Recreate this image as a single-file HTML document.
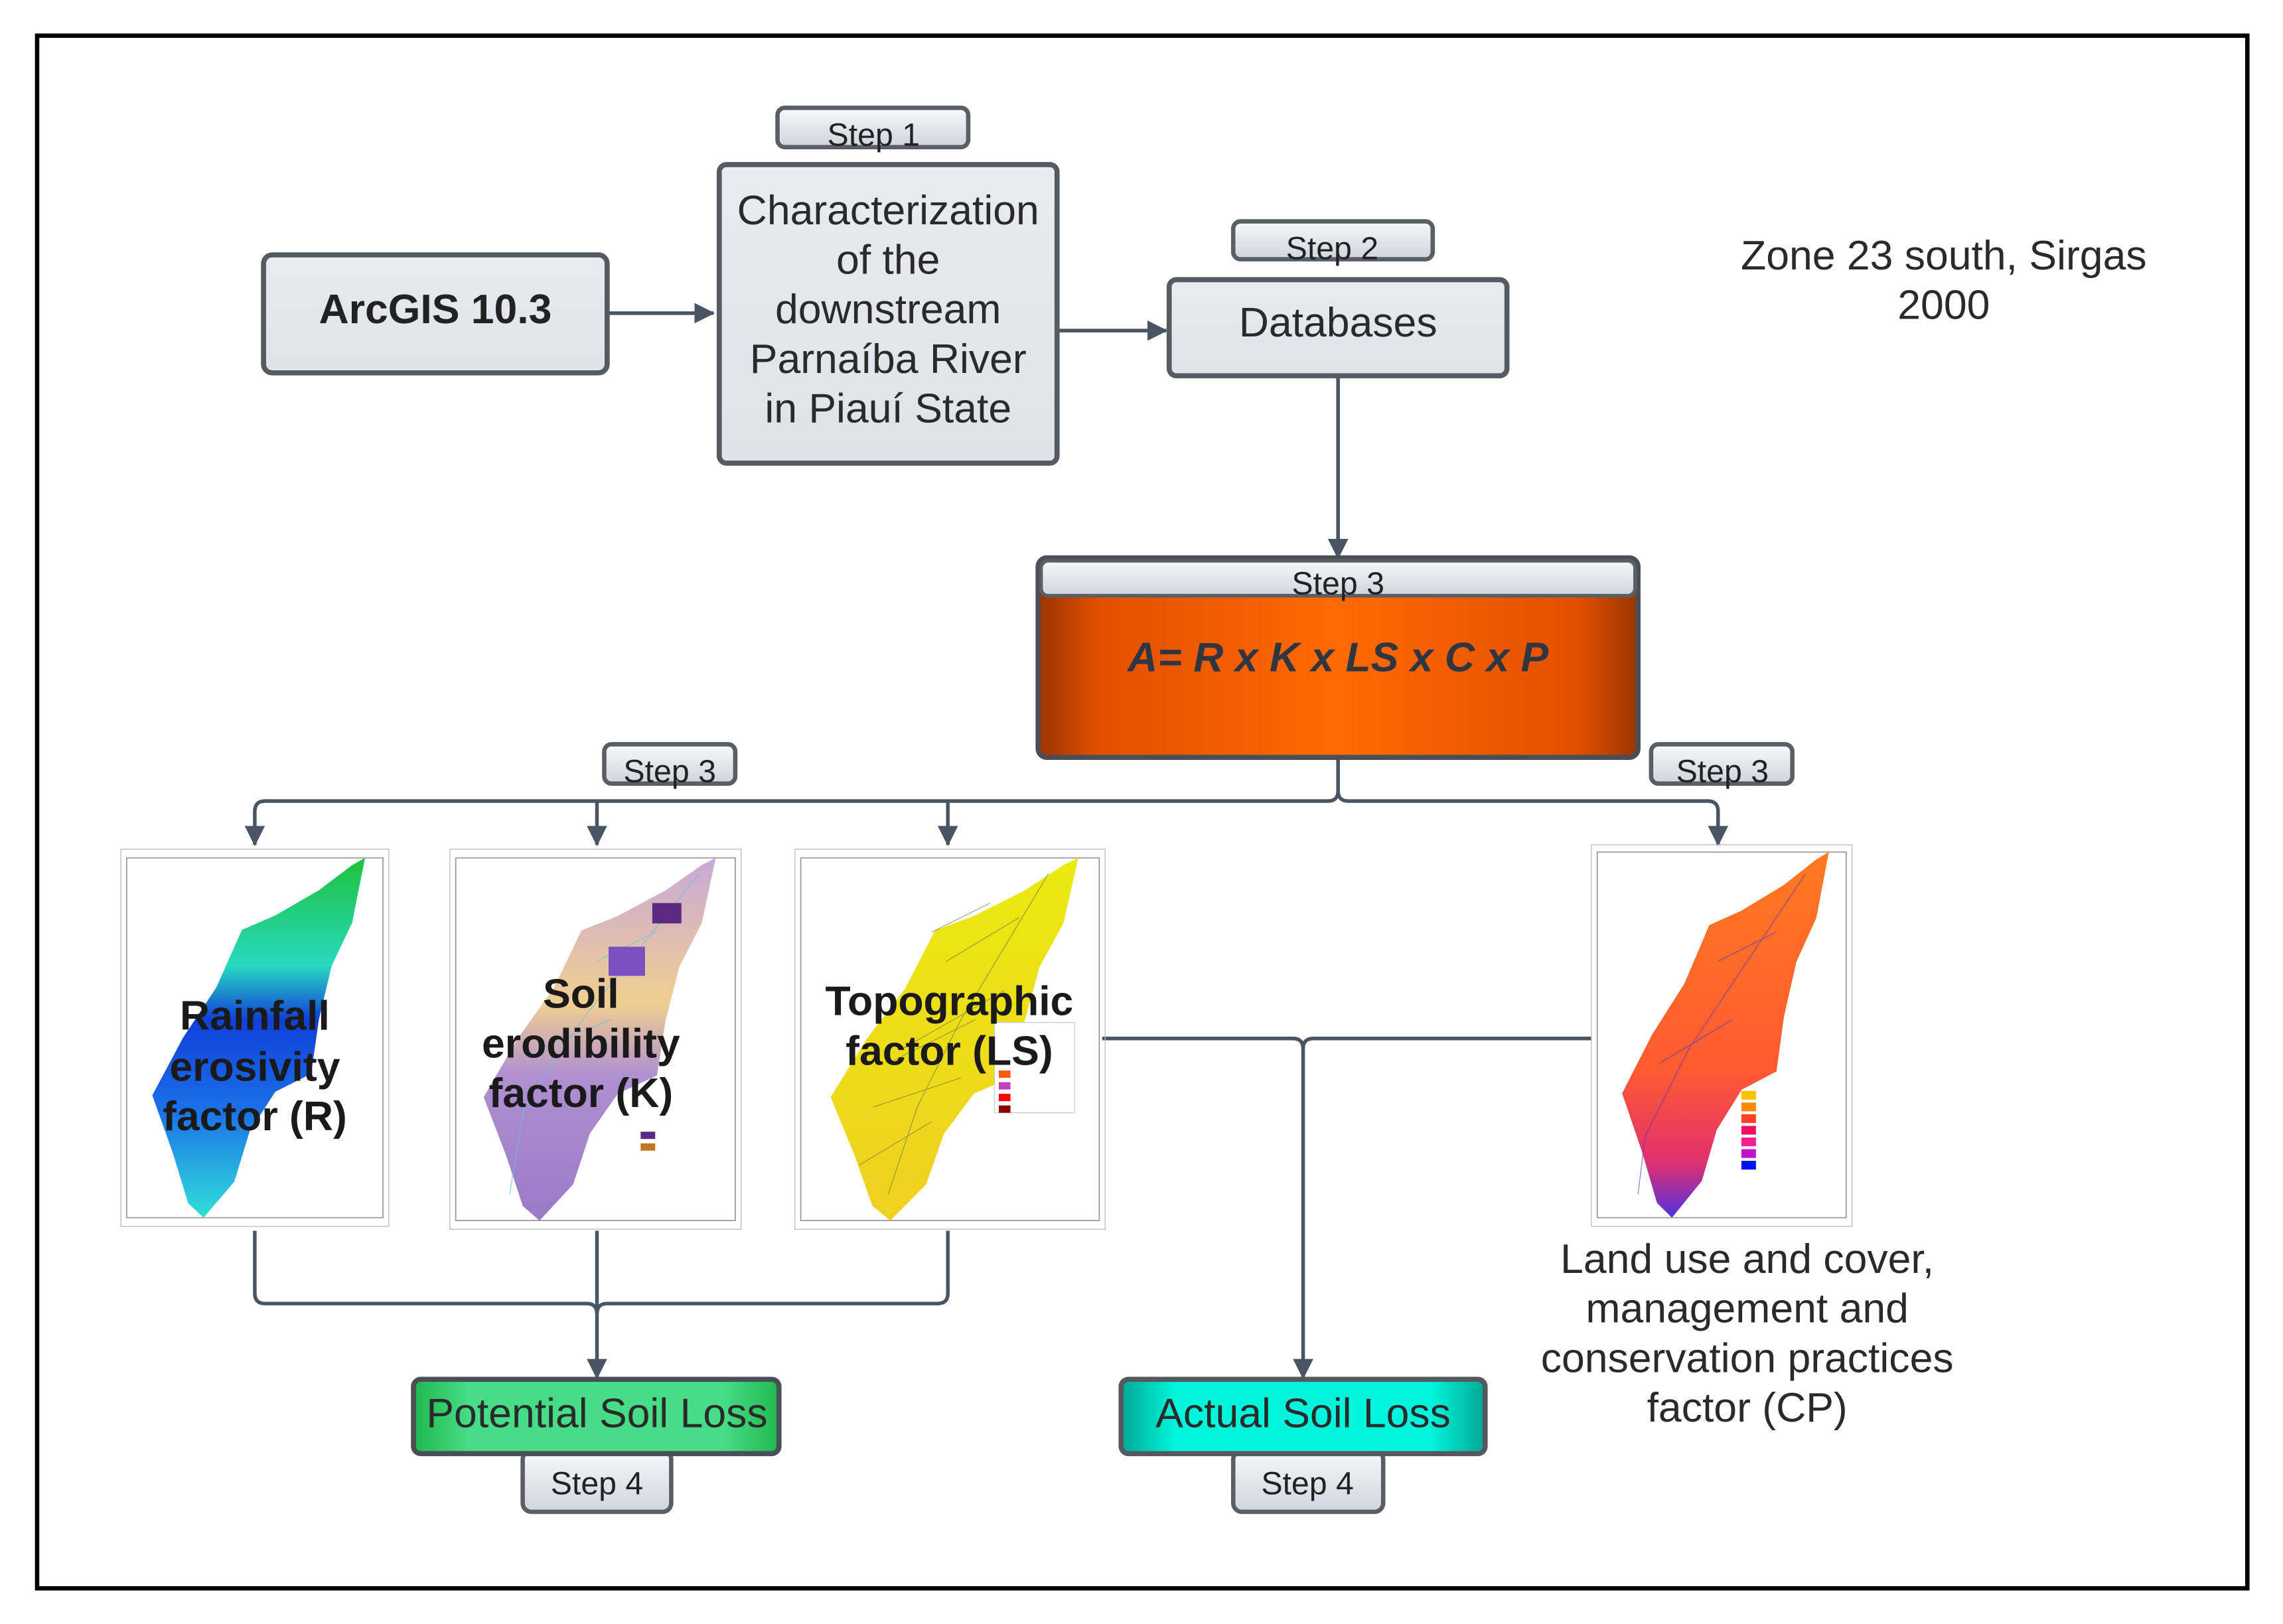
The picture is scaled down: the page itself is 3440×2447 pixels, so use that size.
<!DOCTYPE html>
<html><head><meta charset="utf-8"><style>
html,body{margin:0;padding:0;background:#fff;}
svg{display:block;font-family:"Liberation Sans",sans-serif;}
</style></head><body>
<svg width="3440" height="2447" viewBox="0 0 1568 1115" preserveAspectRatio="none" xmlns="http://www.w3.org/2000/svg">
<defs>
<linearGradient id="tab" x1="0" y1="0" x2="0" y2="1"><stop offset="0" stop-color="#f7f8fa"/><stop offset="1" stop-color="#cfd5de"/></linearGradient>
<linearGradient id="box" x1="0" y1="0" x2="0" y2="1"><stop offset="0" stop-color="#e9ebee"/><stop offset="1" stop-color="#dfe2e7"/></linearGradient>
<linearGradient id="org" x1="0" y1="0" x2="1" y2="0"><stop offset="0" stop-color="#9a3500"/><stop offset="0.1" stop-color="#e24f00"/><stop offset="0.5" stop-color="#ff6a00"/><stop offset="0.9" stop-color="#e24f00"/><stop offset="1" stop-color="#9a3500"/></linearGradient>
<linearGradient id="grn" x1="0" y1="0" x2="1" y2="0"><stop offset="0" stop-color="#1fb84e"/><stop offset="0.15" stop-color="#47dc86"/><stop offset="0.85" stop-color="#47dc86"/><stop offset="1" stop-color="#1fb84e"/></linearGradient>
<linearGradient id="teal" x1="0" y1="0" x2="1" y2="0"><stop offset="0" stop-color="#00a896"/><stop offset="0.15" stop-color="#00f5dc"/><stop offset="0.85" stop-color="#00f5dc"/><stop offset="1" stop-color="#00a896"/></linearGradient>
<linearGradient id="rmap" x1="0" y1="0" x2="0" y2="1"><stop offset="0" stop-color="#1ec23a"/><stop offset="0.3" stop-color="#28d9c0"/><stop offset="0.45" stop-color="#1040d8"/><stop offset="0.7" stop-color="#1a70e8"/><stop offset="1" stop-color="#30e0d8"/></linearGradient>
<linearGradient id="kmap" x1="0" y1="0" x2="0" y2="1"><stop offset="0" stop-color="#c8a8d8"/><stop offset="0.4" stop-color="#f0cf90"/><stop offset="0.6" stop-color="#b090d0"/><stop offset="1" stop-color="#9a7ac8"/></linearGradient>
<linearGradient id="lsmap" x1="0" y1="0" x2="0" y2="1"><stop offset="0" stop-color="#eaea10"/><stop offset="1" stop-color="#f0d020"/></linearGradient>
<linearGradient id="cpmap" x1="0" y1="0" x2="0" y2="1"><stop offset="0" stop-color="#ff7a20"/><stop offset="0.6" stop-color="#ff5a30"/><stop offset="0.85" stop-color="#e03070"/><stop offset="1" stop-color="#5030e0"/></linearGradient>
<marker id="ar" markerWidth="14" markerHeight="14" refX="13" refY="7" orient="auto" markerUnits="userSpaceOnUse"><path d="M0,0 L14,7 L0,14 z" fill="#4a5563"/></marker>
<path id="shape" d="M88,2 L93,0 L88,18 L80,30 L75,45 L72,60 L58,65 L48,76 L42,90 L30,100 L24,96 L18,82 L10,66 L22,50 L35,36 L45,20 L58,16 L75,9 Z"/>
</defs>
<rect x="0" y="0" width="1568" height="1115" fill="#fff"/>
<rect x="25.5" y="24.5" width="1518" height="1066" fill="none" stroke="#000" stroke-width="3"/>

<g stroke="#4a5563" stroke-width="2.5" fill="none">
<line x1="417" y1="215" x2="490" y2="215" marker-end="url(#ar)"/>
<line x1="726" y1="227" x2="801" y2="227" marker-end="url(#ar)"/>
<line x1="919" y1="258" x2="919" y2="383" marker-end="url(#ar)"/>
<path d="M919,520 L919,543 Q919,550 912,550 L182,550 Q175,550 175,557 L175,580" marker-end="url(#ar)"/>
<path d="M919,543 Q919,550 926,550 L1173,550 Q1180,550 1180,557 L1180,580" marker-end="url(#ar)"/>
<line x1="410" y1="550" x2="410" y2="580" marker-end="url(#ar)"/>
<line x1="651" y1="550" x2="651" y2="580" marker-end="url(#ar)"/>
<path d="M175,845 L175,888 Q175,895 182,895 L403,895 Q410,895 410,902"/>
<path d="M651,845 L651,888 Q651,895 644,895 L417,895 Q410,895 410,902"/>
<line x1="410" y1="845" x2="410" y2="946" marker-end="url(#ar)"/>
<path d="M757,713 L888,713 Q895,713 895,720 L895,946" marker-end="url(#ar)"/>
<path d="M1093,713 L902,713 Q895,713 895,720"/>
</g>

<rect x="181" y="175" width="236" height="81" rx="6" fill="url(#box)" stroke="#555b63" stroke-width="3.5"/>
<text x="299" y="222" font-size="28.5" font-weight="bold" text-anchor="middle" fill="#222">ArcGIS 10.3</text>

<rect x="534" y="74" width="131" height="27" rx="5" fill="url(#tab)" stroke="#5a5f66" stroke-width="3"/>
<text x="600" y="100" font-size="22" text-anchor="middle" fill="#222">Step 1</text>
<rect x="494" y="113" width="232" height="205" rx="5" fill="url(#box)" stroke="#555b63" stroke-width="3.5"/>
<g font-size="28.5" text-anchor="middle" fill="#2a2a2a">
<text x="610" y="154">Characterization</text>
<text x="610" y="188">of the</text>
<text x="610" y="222">downstream</text>
<text x="610" y="256">Parnaíba River</text>
<text x="610" y="290">in Piauí State</text>
</g>

<rect x="847" y="152" width="137" height="26" rx="5" fill="url(#tab)" stroke="#5a5f66" stroke-width="3"/>
<text x="915" y="178" font-size="22" text-anchor="middle" fill="#222">Step 2</text>
<rect x="803" y="192" width="232" height="66" rx="5" fill="url(#box)" stroke="#555b63" stroke-width="3.5"/>
<text x="919" y="231" font-size="28.5" text-anchor="middle" fill="#2a2a2a">Databases</text>

<text x="1335" y="185" font-size="28.5" text-anchor="middle" fill="#2a2a2a">Zone 23 south, Sirgas</text>
<text x="1335" y="219" font-size="28.5" text-anchor="middle" fill="#2a2a2a">2000</text>

<rect x="713" y="383" width="412" height="137" rx="6" fill="url(#org)" stroke="#4a4f57" stroke-width="3.5"/>
<rect x="715" y="385" width="408" height="24" rx="5" fill="url(#tab)" stroke="#5a5f66" stroke-width="2.5"/>
<text x="919" y="408" font-size="22" text-anchor="middle" fill="#222">Step 3</text>
<text x="919" y="461" font-size="28.5" font-weight="bold" font-style="italic" text-anchor="middle" fill="#2f3640">A= R x K x LS x C x P</text>

<rect x="415" y="511" width="90" height="27" rx="5" fill="url(#tab)" stroke="#5a5f66" stroke-width="3"/>
<text x="460" y="537" font-size="22" text-anchor="middle" fill="#222">Step 3</text>
<rect x="1134" y="511" width="97" height="27" rx="5" fill="url(#tab)" stroke="#5a5f66" stroke-width="3"/>
<text x="1183" y="537" font-size="22" text-anchor="middle" fill="#222">Step 3</text>

<g stroke="#999" stroke-width="0.8" fill="#fff">
<rect x="87" y="589" width="176" height="247"/>
<rect x="313" y="589" width="192" height="249"/>
<rect x="550" y="589" width="205" height="249"/>
<rect x="1097" y="585" width="171" height="251"/>
</g>
<g stroke="#bbb" stroke-width="0.6" fill="none">
<rect x="83" y="583" width="184" height="259"/>
<rect x="309" y="583" width="200" height="261"/>
<rect x="546" y="583" width="213" height="261"/>
<rect x="1093" y="580" width="179" height="262"/>
</g>
<use href="#shape" transform="translate(87,589) scale(1.76,2.47)" fill="url(#rmap)"/>
<use href="#shape" transform="translate(313,589) scale(1.92,2.49)" fill="url(#kmap)"/>
<use href="#shape" transform="translate(550,589) scale(2.05,2.49)" fill="url(#lsmap)"/>
<use href="#shape" transform="translate(1097,585) scale(1.71,2.51)" fill="url(#cpmap)"/>
<g stroke="#6a7a40" stroke-width="0.6" fill="none" opacity="0.6">
<path d="M720,600 L690,650 L660,700 L630,760 L610,820"/><path d="M700,630 L650,660 M690,680 L620,720 M660,740 L600,760 M680,620 L640,640 M670,700 L610,730 M640,770 L590,800"/>
</g>
<g stroke="#60c0f0" stroke-width="0.6" fill="none" opacity="0.7">
<path d="M480,600 L440,650 L400,700 L360,760 L350,820 M450,640 L410,660 M420,700 L370,720"/>
</g>
<rect x="448" y="620" width="20" height="14" fill="#5a2a80"/>
<rect x="418" y="650" width="25" height="20" fill="#7a50c0"/>
<g stroke="#5030d0" stroke-width="0.6" fill="none" opacity="0.6">
<path d="M1240,600 L1200,660 L1160,720 L1130,780 L1125,820 M1220,640 L1180,660 M1190,700 L1140,730"/>
</g>
<rect x="683" y="702" width="55" height="62" fill="#fff" stroke="#ccc" stroke-width="0.6"/>
<rect x="686" y="735" width="8" height="5" fill="#ff5a10"/><rect x="686" y="743" width="8" height="5" fill="#c040c0"/><rect x="686" y="751" width="8" height="5" fill="#ff0000"/><rect x="686" y="759" width="8" height="5" fill="#8b0000"/>
<rect x="1196" y="749" width="10" height="6" fill="#ffc000"/><rect x="1196" y="757" width="10" height="6" fill="#ff8a00"/><rect x="1196" y="765" width="10" height="6" fill="#ff4020"/><rect x="1196" y="773" width="10" height="6" fill="#f01060"/><rect x="1196" y="781" width="10" height="6" fill="#f02090"/><rect x="1196" y="789" width="10" height="6" fill="#c010d0"/><rect x="1196" y="797" width="10" height="6" fill="#0010f0"/>
<rect x="440" y="777" width="10" height="5" fill="#5a2a80"/><rect x="440" y="785" width="10" height="5" fill="#c07820"/>

<g font-size="28.5" font-weight="bold" text-anchor="middle" fill="#1a1a1a">
<text x="175" y="707">Rainfall</text><text x="175" y="742">erosivity</text><text x="175" y="776">factor (R)</text>
<text x="399" y="692">Soil</text><text x="399" y="726">erodibility</text><text x="399" y="760">factor (K)</text>
<text x="652" y="697">Topographic</text><text x="652" y="731">factor (LS)</text>
</g>

<g font-size="28.5" text-anchor="middle" fill="#2a2a2a">
<text x="1200" y="874">Land use and cover,</text>
<text x="1200" y="908">management and</text>
<text x="1200" y="942">conservation practices</text>
<text x="1200" y="976">factor (CP)</text>
</g>

<rect x="359" y="996" width="102" height="42" rx="6" fill="url(#tab)" stroke="#5a5f66" stroke-width="3"/>
<text x="410" y="1026" font-size="22" text-anchor="middle" fill="#222">Step 4</text>
<rect x="284" y="947" width="251" height="51" rx="5" fill="url(#grn)" stroke="#4a4f57" stroke-width="3.5"/>
<text x="410" y="980" font-size="28.5" text-anchor="middle" fill="#2a2a2a">Potential Soil Loss</text>

<rect x="847" y="996" width="103" height="42" rx="6" fill="url(#tab)" stroke="#5a5f66" stroke-width="3"/>
<text x="898" y="1026" font-size="22" text-anchor="middle" fill="#222">Step 4</text>
<rect x="770" y="947" width="250" height="51" rx="5" fill="url(#teal)" stroke="#55595f" stroke-width="3.5"/>
<text x="895" y="980" font-size="28.5" text-anchor="middle" fill="#2a2a2a">Actual Soil Loss</text>
</svg>
</body></html>
